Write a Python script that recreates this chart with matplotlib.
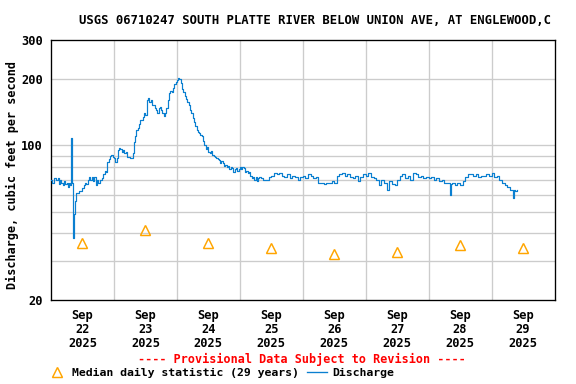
import matplotlib
matplotlib.use("Agg")
import matplotlib.pyplot as plt
from matplotlib.lines import Line2D
from matplotlib.ticker import FixedLocator, NullFormatter

# ---------------- data ----------------
title = "USGS 06710247 SOUTH PLATTE RIVER BELOW UNION AVE, AT ENGLEWOOD,C"
day_labels = ["Sep\n22\n2025", "Sep\n23\n2025", "Sep\n24\n2025", "Sep\n25\n2025",
              "Sep\n26\n2025", "Sep\n27\n2025", "Sep\n28\n2025", "Sep\n29\n2025"]
median_hours = [12, 36, 60, 84, 108, 132, 156, 180]
median_cfs = [36.2, 41.3, 36.2, 34.2, 32.3, 33.1, 35.5, 34.2]

# hours since Sep 22 00:00
hours = [0, 0.5, 1, 2, 2.5, 3, 3.5, 4, 4.5, 5, 5.5, 6, 6.5, 7, 7.3, 7.6, 7.8, 8.0, 8.3, 8.5,
         8.8, 9.2, 9.5, 10.5, 11.5, 12, 12.5, 13, 13.5, 14, 14.5, 15, 15.5, 16, 16.5, 17, 17.5,
         18, 18.5, 19, 19.5, 20, 20.6, 21, 21.5, 22, 22.5, 23, 23.5, 24, 24.4, 25, 25.5, 26,
         26.5, 27, 27.5, 28, 28.5, 29, 30, 30.8, 31.2, 31.6, 32, 32.5, 33, 33.5, 34, 34.5, 35,
         35.5, 36, 36.5, 37, 37.5, 38, 38.5, 39, 39.5, 40, 40.5, 41, 41.5, 42, 42.5, 43, 43.5,
         44, 44.5, 45, 45.5, 46, 46.5, 47, 47.5, 48, 48.5, 49, 49.5, 50, 50.5, 51, 51.5, 52,
         52.5, 53, 53.5, 54, 54.5, 55, 55.5, 56, 56.5, 57, 57.5, 58, 58.5, 59, 59.5, 60, 60.5,
         61, 61.5, 62, 62.5, 63, 63.5, 64, 64.5, 65, 65.5, 66, 66.5, 67, 67.5, 68, 68.5, 69,
         69.5, 70, 70.5, 71, 71.5, 72, 72.5, 73, 73.5, 74, 74.5, 75, 75.5, 76, 76.5, 77, 77.5,
         78, 78.5, 79, 79.5,
         80, 81, 82, 83, 84, 85, 86, 87, 88, 89, 90, 91, 92, 93, 94, 95, 96, 97, 98, 99, 100,
         101, 102, 103, 104, 105, 106, 107, 108, 109, 110, 111, 112, 113, 114, 115, 116, 117,
         118, 119, 120, 121, 122, 123, 124, 125, 126, 127, 128, 129, 130, 131, 132, 133, 134,
         135, 136, 137, 138, 139, 140, 141, 142, 143, 144, 145, 146, 147, 148, 149, 150, 151,
         152, 152.5, 153, 154, 155, 156, 157, 158, 159, 160, 161, 162, 163, 164, 165, 166,
         167, 168, 169, 170, 171, 172, 173, 174, 175, 176, 176.5, 177, 177.8]
cfs = [70, 68, 71, 70, 71, 67, 70, 68, 66, 69, 67, 68, 65, 68, 66, 95, 108, 68, 66, 38,
       49, 56, 61, 62, 62, 64, 66, 68, 67, 70, 72, 70, 72, 69, 72, 66, 70,
       68, 70, 70, 71, 74, 77, 76, 84, 87, 90, 91, 89, 88, 84, 88, 95, 97,
       96, 93, 95, 92, 93, 89, 88, 88, 92, 104, 110, 118, 120, 125, 130, 131, 135,
       140, 137, 160, 164, 158, 160, 153, 152, 147, 145, 140, 148, 150, 145, 140, 136, 140,
       148, 160, 172, 176, 174, 182, 190, 194, 198, 202, 200, 192, 180, 175, 168, 162, 158,
       152, 145, 140, 133, 128, 122, 118, 115, 114, 112, 110, 105, 101, 96, 98, 93, 92,
       94, 91, 90, 89, 88, 87, 86, 83, 85, 83, 81, 82, 80, 81, 78, 80, 79,
       76, 78, 79, 77, 78, 80, 78, 80, 79, 76, 77, 75, 76, 73, 71, 72, 70,
       72, 69, 71, 72,
       71, 70, 70, 72, 73, 75, 74, 75, 73, 72, 74, 71, 73, 72, 70, 72, 73, 71, 74, 73, 71,
       72, 68, 68, 67, 68, 68, 69, 68, 73, 74, 75, 73, 74, 72, 71, 73, 69,
       72, 74, 73, 75, 72, 71, 70, 66, 70, 68, 63, 69, 67, 66, 70, 73, 74,
       71, 73, 70, 75, 74, 72, 73, 71, 72, 71, 72, 70, 71, 69, 70, 68, 68,
       60, 67, 68, 66, 68, 66, 69, 72, 74, 74, 73, 74, 72, 73, 73, 74,
       73, 75, 72, 73, 70, 68, 66, 65, 63, 58, 63, 62, 63]

# ---------------- figure ----------------
W, H = 576, 384
fig = plt.figure(figsize=(W / 96, H / 96), dpi=96)
font = {"family": "DejaVu Sans Mono", "weight": "bold"}

x0, x1, y0, y1 = 51, 554.5, 40, 300
ax = fig.add_axes([x0 / W, 1 - y1 / H, (x1 - x0) / W, (y1 - y0) / H])

blue = "#0a7fd0"
orange = "#ffa500"

ax.plot(hours, cfs, color=blue, lw=0.9, drawstyle="steps-post", zorder=3)
ax.plot(median_hours, median_cfs, linestyle="none", marker="^", ms=8,
        mfc="none", mec=orange, mew=1.1, zorder=4)

ax.set_yscale("log")
ax.set_ylim(20, 300)
ax.set_xlim(0, 192)

ax.yaxis.set_major_locator(FixedLocator([20, 100, 200, 300]))
ax.yaxis.set_minor_locator(FixedLocator([30, 40, 50, 60, 70, 80, 90]))
ax.yaxis.set_minor_formatter(NullFormatter())
ax.set_yticklabels(["20", "100", "200", "300"], **font, fontsize=9)

ax.xaxis.set_major_locator(FixedLocator(median_hours))
ax.xaxis.set_minor_locator(FixedLocator([24, 48, 72, 96, 120, 144, 168]))
ax.set_xticklabels(day_labels, **font, fontsize=9, linespacing=1.1)

ax.tick_params(axis="both", which="both", length=0)
ax.tick_params(axis="x", pad=7)
ax.tick_params(axis="y", pad=6)

gc = "#cccccc"
ax.grid(False)
for yv in [30, 40, 50, 60, 70, 80, 90, 100, 200]:
    ax.axhline(yv, color=gc, lw=1, zorder=1)
for xv in [24, 48, 72, 96, 120, 144, 168]:
    ax.axvline(xv, color=gc, lw=1, zorder=1)

for s in ax.spines.values():
    s.set_color("black")
    s.set_linewidth(1)

fig.text(315 / W, 1 - 20 / H, title, ha="center", va="center", fontsize=9.2, **font)
fig.text(12 / W, 1 - 175 / H, "Discharge, cubic feet per second", rotation=90,
         ha="center", va="center", fontsize=8.8, **font)
fig.text(302 / W, 1 - 359 / H, "---- Provisional Data Subject to Revision ----",
         ha="center", va="center", fontsize=8.8, color="red", **font)

# legend
fig.add_artist(Line2D([57 / W], [1 - 372 / H], marker="^", ms=8, mfc="none", mec=orange,
                      mew=1.1, linestyle="none", transform=fig.transFigure))
fig.text(72 / W, 1 - 373 / H, "Median daily statistic (29 years)", ha="left",
         va="center", fontsize=8.6, **font)
fig.add_artist(Line2D([307 / W, 327 / W], [1 - 372 / H, 1 - 372 / H], color=blue, lw=1,
                      transform=fig.transFigure))
fig.text(332 / W, 1 - 373 / H, "Discharge", ha="left", va="center", fontsize=8.6, **font)

fig.savefig("out.png", dpi=96)
